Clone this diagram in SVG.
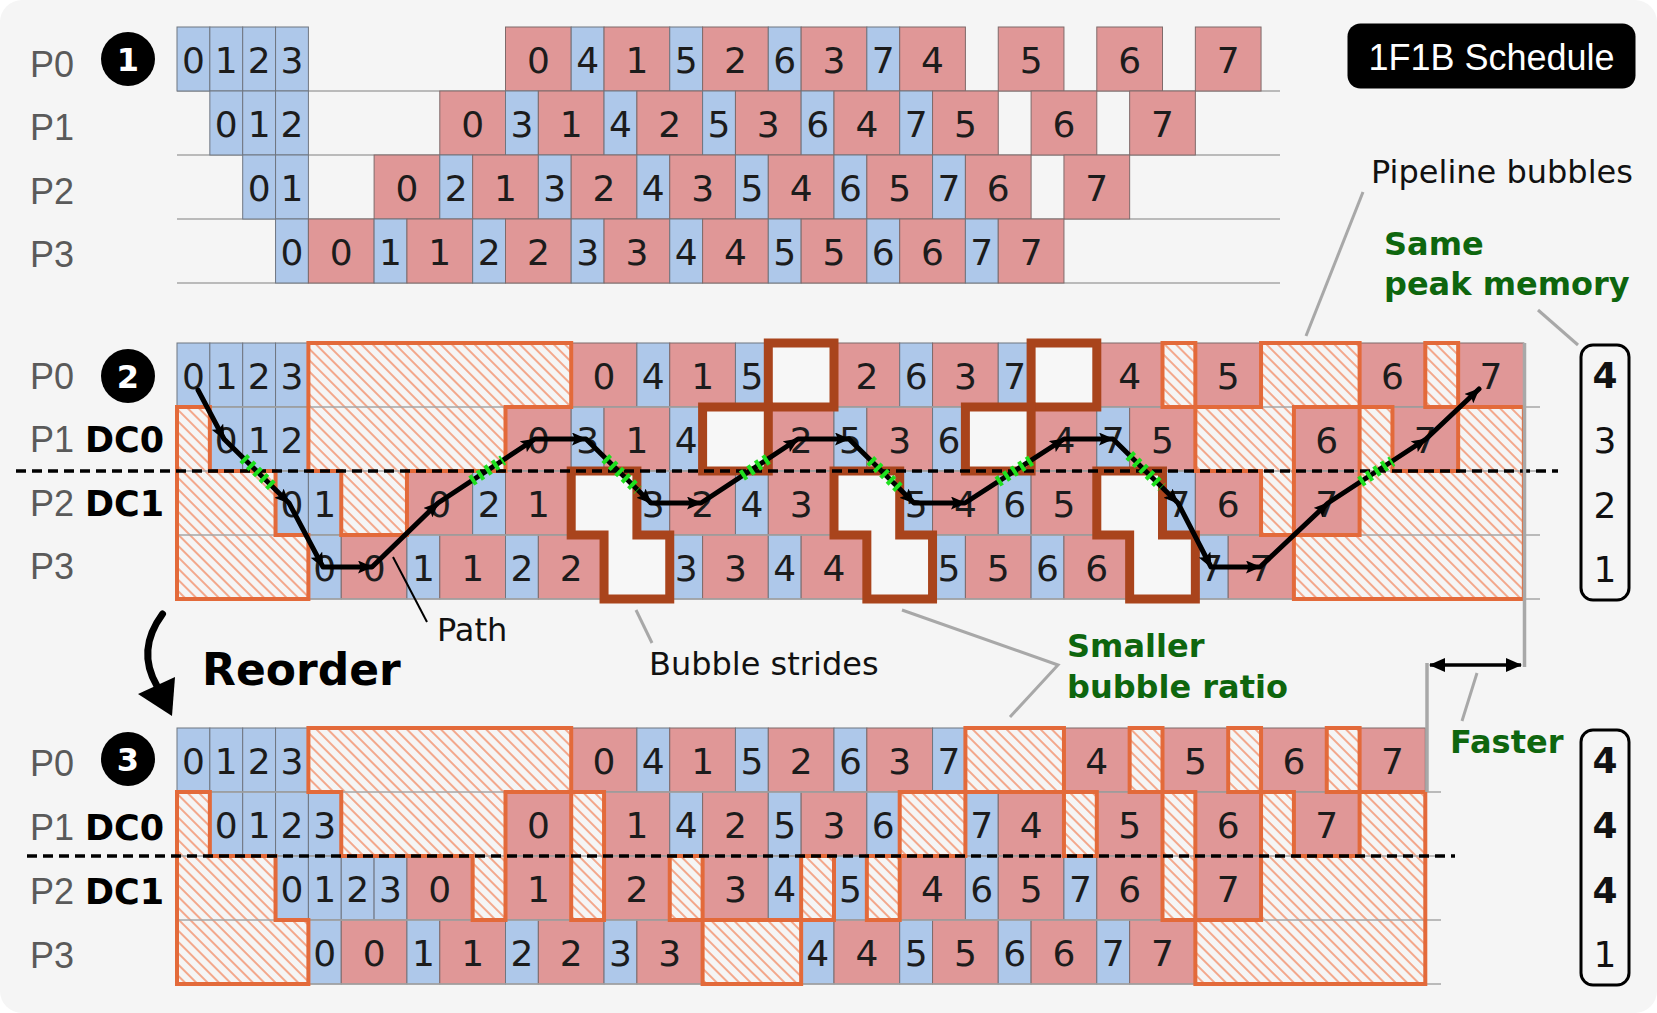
<svg xmlns="http://www.w3.org/2000/svg" width="1657" height="1013" viewBox="0 0 1657 1013">
<style>
.f{fill:#aec8ea;stroke:#6f7680;stroke-width:1}
.b{fill:#e09797;stroke:#7f6a6a;stroke-width:1}
.d{font-family:"DejaVu Sans",Verdana,sans-serif;font-size:36px;fill:#1c1c1c;text-anchor:middle}
.pl{font-family:"Liberation Sans",Arial,sans-serif;font-size:36px;fill:#5a5a5a}
.dc{font-family:"DejaVu Sans",Verdana,sans-serif;font-size:35px;font-weight:bold;fill:#000}
.grid{stroke:#a6a6a6;stroke-width:1.5}
.str{fill:#f7f7f7;stroke:#a9441c;stroke-width:9;stroke-linejoin:miter}
.ann{font-family:"DejaVu Sans",Verdana,sans-serif;font-size:32px;fill:#111}
.grn{font-family:"DejaVu Sans",Verdana,sans-serif;font-size:32px;font-weight:bold;fill:#0e660e}
.lead{stroke:#a8a8a8;stroke-width:3;fill:none}
.num{font-family:"DejaVu Sans",Verdana,sans-serif;font-size:36px;fill:#111;text-anchor:middle}
.bd{font-weight:bold}
.cn{font-family:"DejaVu Sans",Verdana,sans-serif;font-size:32px;font-weight:bold;fill:#fff;text-anchor:middle}
.dash{stroke:#000;stroke-width:3.5;stroke-dasharray:10 6}
.mem{fill:none;stroke:#000;stroke-width:3}
.hz{fill:url(#hatch);stroke:none}
.ho{fill:none;stroke:#e36a3a;stroke-width:4}
.pth{fill:none;stroke:#000;stroke-width:5;stroke-linejoin:round;stroke-linecap:round}
.mk{fill:none;stroke:none}
.gr{stroke:#1fe01f;stroke-width:11;stroke-dasharray:4 5;fill:none}
</style>
<defs>
<pattern id="hatch" patternUnits="userSpaceOnUse" width="8" height="8" patternTransform="rotate(45)">
<rect width="8" height="8" fill="#f5f5f5"/>
<line x1="0" y1="4" x2="8" y2="4" stroke="#f3a486" stroke-width="1.9"/>
</pattern>
<marker id="ah" viewBox="0 0 15 13" refX="14" refY="6.5" markerWidth="15" markerHeight="13" markerUnits="userSpaceOnUse" orient="auto"><path d="M0,0 L15,6.5 L0,13 L3,6.5 Z" fill="#000"/></marker>
<marker id="ah2" viewBox="0 0 16 14" refX="15" refY="7" markerWidth="16" markerHeight="14" markerUnits="userSpaceOnUse" orient="auto-start-reverse"><path d="M0,0 L16,7 L0,14 Z" fill="#000"/></marker>
<g id="s2h">
<path d="M177,407H209.85V471H275.55V535H308.4V599H177Z"/>
<path d="M308.4,343H571.2V407H505.5V471H406.95V535H341.25V471H308.4Z"/>
<path d="M1162.5,343H1195.35V407H1162.5Z"/>
<path d="M1261.05,343H1359.6V407H1293.9V535H1261.05V471H1195.35V407H1261.05Z"/>
<path d="M1359.6,407H1392.45V471H1458.15V407H1523.85V599H1293.9V535H1359.6Z"/>
<path d="M1425.3,343H1458.15V407H1425.3Z"/>
</g>
<g id="s3h">
<path d="M177,792H209.85V856H275.55V920H308.4V984H177Z"/>
<path d="M308.4,728H571.2V792H505.5V920H472.65V856H341.25V792H308.4Z"/>
<path d="M571.2,792H604.05V920H571.2Z"/>
<path d="M669.75,856H702.6V920H669.75Z"/>
<path d="M702.6,920H801.15V984H702.6Z"/>
<path d="M801.15,856H834V920H801.15Z"/>
<path d="M866.85,856H899.7V920H866.85Z"/>
<path d="M899.7,792H965.4V856H899.7Z"/>
<path d="M965.4,728H1063.95V792H965.4Z"/>
<path d="M1063.95,792H1096.8V856H1063.95Z"/>
<path d="M1129.65,728H1162.5V792H1129.65Z"/>
<path d="M1162.5,792H1195.35V920H1162.5Z"/>
<path d="M1228.2,728H1261.05V792H1228.2Z"/>
<path d="M1326.75,728H1359.6V792H1326.75Z"/>
<path d="M1261.05,792H1293.9V856H1359.6V792H1425.3V984H1195.35V920H1261.05Z"/>
</g>
</defs>

<rect width="1657" height="1013" fill="#ffffff"/>
<rect width="1657" height="1013" rx="22" fill="#f5f5f5"/>

<!-- ===== Schedule 1 ===== -->
<g id="s1-grid">
<line class="grid" x1="177" y1="91" x2="1280" y2="91"/>
<line class="grid" x1="177" y1="155" x2="1280" y2="155"/>
<line class="grid" x1="177" y1="219" x2="1280" y2="219"/>
<line class="grid" x1="177" y1="283" x2="1280" y2="283"/>
</g>
<g id="s1-p0" transform="translate(0,27)">
<rect class="f" x="177" width="32.85" height="64"/><rect class="f" x="209.85" width="32.85" height="64"/><rect class="f" x="242.7" width="32.85" height="64"/><rect class="f" x="275.55" width="32.85" height="64"/>
<rect class="b" x="505.5" width="65.7" height="64"/><rect class="f" x="571.2" width="32.85" height="64"/><rect class="b" x="604.05" width="65.7" height="64"/><rect class="f" x="669.75" width="32.85" height="64"/><rect class="b" x="702.6" width="65.7" height="64"/><rect class="f" x="768.3" width="32.85" height="64"/><rect class="b" x="801.15" width="65.7" height="64"/><rect class="f" x="866.85" width="32.85" height="64"/><rect class="b" x="899.7" width="65.7" height="64"/><rect class="b" x="998.25" width="65.7" height="64"/><rect class="b" x="1096.8" width="65.7" height="64"/><rect class="b" x="1195.35" width="65.7" height="64"/>
<text class="d" x="193.4" y="46">0</text><text class="d" x="226.3" y="46">1</text><text class="d" x="259.1" y="46">2</text><text class="d" x="292" y="46">3</text>
<text class="d" x="538.35" y="46">0</text><text class="d" x="587.6" y="46">4</text><text class="d" x="636.9" y="46">1</text><text class="d" x="686.2" y="46">5</text><text class="d" x="735.45" y="46">2</text><text class="d" x="784.7" y="46">6</text><text class="d" x="834" y="46">3</text><text class="d" x="883.3" y="46">7</text><text class="d" x="932.55" y="46">4</text><text class="d" x="1031.1" y="46">5</text><text class="d" x="1129.65" y="46">6</text><text class="d" x="1228.2" y="46">7</text>
</g>
<g id="s1-p1" transform="translate(0,91)">
<rect class="f" x="209.85" width="32.85" height="64"/><rect class="f" x="242.7" width="32.85" height="64"/><rect class="f" x="275.55" width="32.85" height="64"/>
<rect class="b" x="439.8" width="65.7" height="64"/><rect class="f" x="505.5" width="32.85" height="64"/><rect class="b" x="538.35" width="65.7" height="64"/><rect class="f" x="604.05" width="32.85" height="64"/><rect class="b" x="636.9" width="65.7" height="64"/><rect class="f" x="702.6" width="32.85" height="64"/><rect class="b" x="735.45" width="65.7" height="64"/><rect class="f" x="801.15" width="32.85" height="64"/><rect class="b" x="834" width="65.7" height="64"/><rect class="f" x="899.7" width="32.85" height="64"/><rect class="b" x="932.55" width="65.7" height="64"/><rect class="b" x="1031.1" width="65.7" height="64"/><rect class="b" x="1129.65" width="65.7" height="64"/>
<text class="d" x="226.3" y="46">0</text><text class="d" x="259.1" y="46">1</text><text class="d" x="292" y="46">2</text>
<text class="d" x="472.65" y="46">0</text><text class="d" x="521.9" y="46">3</text><text class="d" x="571.2" y="46">1</text><text class="d" x="620.5" y="46">4</text><text class="d" x="669.75" y="46">2</text><text class="d" x="719" y="46">5</text><text class="d" x="768.3" y="46">3</text><text class="d" x="817.6" y="46">6</text><text class="d" x="866.85" y="46">4</text><text class="d" x="916.1" y="46">7</text><text class="d" x="965.4" y="46">5</text><text class="d" x="1063.95" y="46">6</text><text class="d" x="1162.5" y="46">7</text>
</g>
<g id="s1-p2" transform="translate(0,155)">
<rect class="f" x="242.7" width="32.85" height="64"/><rect class="f" x="275.55" width="32.85" height="64"/>
<rect class="b" x="374.1" width="65.7" height="64"/><rect class="f" x="439.8" width="32.85" height="64"/><rect class="b" x="472.65" width="65.7" height="64"/><rect class="f" x="538.35" width="32.85" height="64"/><rect class="b" x="571.2" width="65.7" height="64"/><rect class="f" x="636.9" width="32.85" height="64"/><rect class="b" x="669.75" width="65.7" height="64"/><rect class="f" x="735.45" width="32.85" height="64"/><rect class="b" x="768.3" width="65.7" height="64"/><rect class="f" x="834" width="32.85" height="64"/><rect class="b" x="866.85" width="65.7" height="64"/><rect class="f" x="932.55" width="32.85" height="64"/><rect class="b" x="965.4" width="65.7" height="64"/><rect class="b" x="1063.95" width="65.7" height="64"/>
<text class="d" x="259.1" y="46">0</text><text class="d" x="292" y="46">1</text>
<text class="d" x="406.95" y="46">0</text><text class="d" x="456.2" y="46">2</text><text class="d" x="505.5" y="46">1</text><text class="d" x="554.8" y="46">3</text><text class="d" x="604.05" y="46">2</text><text class="d" x="653.3" y="46">4</text><text class="d" x="702.6" y="46">3</text><text class="d" x="751.9" y="46">5</text><text class="d" x="801.15" y="46">4</text><text class="d" x="850.4" y="46">6</text><text class="d" x="899.7" y="46">5</text><text class="d" x="949" y="46">7</text><text class="d" x="998.25" y="46">6</text><text class="d" x="1096.8" y="46">7</text>
</g>
<g id="s1-p3" transform="translate(0,219)">
<rect class="f" x="275.55" width="32.85" height="64"/><rect class="b" x="308.4" width="65.7" height="64"/><rect class="f" x="374.1" width="32.85" height="64"/><rect class="b" x="406.95" width="65.7" height="64"/><rect class="f" x="472.65" width="32.85" height="64"/><rect class="b" x="505.5" width="65.7" height="64"/><rect class="f" x="571.2" width="32.85" height="64"/><rect class="b" x="604.05" width="65.7" height="64"/><rect class="f" x="669.75" width="32.85" height="64"/><rect class="b" x="702.6" width="65.7" height="64"/><rect class="f" x="768.3" width="32.85" height="64"/><rect class="b" x="801.15" width="65.7" height="64"/><rect class="f" x="866.85" width="32.85" height="64"/><rect class="b" x="899.7" width="65.7" height="64"/><rect class="f" x="965.4" width="32.85" height="64"/><rect class="b" x="998.25" width="65.7" height="64"/>
<text class="d" x="292" y="46">0</text><text class="d" x="341.25" y="46">0</text><text class="d" x="390.5" y="46">1</text><text class="d" x="439.8" y="46">1</text><text class="d" x="489.1" y="46">2</text><text class="d" x="538.35" y="46">2</text><text class="d" x="587.6" y="46">3</text><text class="d" x="636.9" y="46">3</text><text class="d" x="686.2" y="46">4</text><text class="d" x="735.45" y="46">4</text><text class="d" x="784.7" y="46">5</text><text class="d" x="834" y="46">5</text><text class="d" x="883.3" y="46">6</text><text class="d" x="932.55" y="46">6</text><text class="d" x="981.8" y="46">7</text><text class="d" x="1031.1" y="46">7</text>
</g>
<g id="s1-labels">
<text class="pl" x="30" y="77">P0</text><text class="pl" x="30" y="140">P1</text><text class="pl" x="30" y="204">P2</text><text class="pl" x="30" y="267">P3</text>
<circle cx="128" cy="59" r="27" fill="#000"/><text class="cn" x="128" y="70.5">1</text>
</g>
<g id="title">
<rect x="1347.5" y="23.5" width="288" height="65" rx="13" fill="#000"/>
<text x="1491.5" y="69.5" text-anchor="middle" font-family="Liberation Sans, Arial, sans-serif" font-size="36" fill="#fff">1F1B Schedule</text>
</g>

<!-- ===== Schedule 2 ===== -->
<g id="s2-p0" transform="translate(0,343)">
<rect class="f" x="177" width="32.85" height="64"/><rect class="f" x="209.85" width="32.85" height="64"/><rect class="f" x="242.7" width="32.85" height="64"/><rect class="f" x="275.55" width="32.85" height="64"/>
<rect class="b" x="571.2" width="65.7" height="64"/><rect class="f" x="636.9" width="32.85" height="64"/><rect class="b" x="669.75" width="65.7" height="64"/><rect class="f" x="735.45" width="32.85" height="64"/><rect class="b" x="834" width="65.7" height="64"/><rect class="f" x="899.7" width="32.85" height="64"/><rect class="b" x="932.55" width="65.7" height="64"/><rect class="f" x="998.25" width="32.85" height="64"/><rect class="b" x="1096.8" width="65.7" height="64"/><rect class="b" x="1195.35" width="65.7" height="64"/><rect class="b" x="1359.6" width="65.7" height="64"/><rect class="b" x="1458.15" width="65.7" height="64"/>
<text class="d" x="193.4" y="45.5">0</text><text class="d" x="226.3" y="45.5">1</text><text class="d" x="259.1" y="45.5">2</text><text class="d" x="292" y="45.5">3</text>
<text class="d" x="604.05" y="45.5">0</text><text class="d" x="653.3" y="45.5">4</text><text class="d" x="702.6" y="45.5">1</text><text class="d" x="751.9" y="45.5">5</text><text class="d" x="866.85" y="45.5">2</text><text class="d" x="916.1" y="45.5">6</text><text class="d" x="965.4" y="45.5">3</text><text class="d" x="1014.7" y="45.5">7</text><text class="d" x="1129.65" y="45.5">4</text><text class="d" x="1228.2" y="45.5">5</text><text class="d" x="1392.45" y="45.5">6</text><text class="d" x="1491" y="45.5">7</text>
</g>
<g id="s2-p1" transform="translate(0,407)">
<rect class="f" x="209.85" width="32.85" height="64"/><rect class="f" x="242.7" width="32.85" height="64"/><rect class="f" x="275.55" width="32.85" height="64"/>
<rect class="b" x="505.5" width="65.7" height="64"/><rect class="f" x="571.2" width="32.85" height="64"/><rect class="b" x="604.05" width="65.7" height="64"/><rect class="f" x="669.75" width="32.85" height="64"/><rect class="b" x="768.3" width="65.7" height="64"/><rect class="f" x="834" width="32.85" height="64"/><rect class="b" x="866.85" width="65.7" height="64"/><rect class="f" x="932.55" width="32.85" height="64"/><rect class="b" x="1031.1" width="65.7" height="64"/><rect class="f" x="1096.8" width="32.85" height="64"/><rect class="b" x="1129.65" width="65.7" height="64"/><rect class="b" x="1293.9" width="65.7" height="64"/><rect class="b" x="1392.45" width="65.7" height="64"/>
<text class="d" x="226.3" y="45.5">0</text><text class="d" x="259.1" y="45.5">1</text><text class="d" x="292" y="45.5">2</text>
<text class="d" x="538.35" y="45.5">0</text><text class="d" x="587.6" y="45.5">3</text><text class="d" x="636.9" y="45.5">1</text><text class="d" x="686.2" y="45.5">4</text><text class="d" x="801.15" y="45.5">2</text><text class="d" x="850.4" y="45.5">5</text><text class="d" x="899.7" y="45.5">3</text><text class="d" x="949" y="45.5">6</text><text class="d" x="1063.95" y="45.5">4</text><text class="d" x="1113.2" y="45.5">7</text><text class="d" x="1162.5" y="45.5">5</text><text class="d" x="1326.75" y="45.5">6</text><text class="d" x="1425.3" y="45.5">7</text>
</g>
<g id="s2-p2" transform="translate(0,471)">
<rect class="f" x="275.55" width="32.85" height="64"/><rect class="f" x="308.4" width="32.85" height="64"/>
<rect class="b" x="406.95" width="65.7" height="64"/><rect class="f" x="472.65" width="32.85" height="64"/><rect class="b" x="505.5" width="65.7" height="64"/><rect class="f" x="636.9" width="32.85" height="64"/><rect class="b" x="669.75" width="65.7" height="64"/><rect class="f" x="735.45" width="32.85" height="64"/><rect class="b" x="768.3" width="65.7" height="64"/><rect class="f" x="899.7" width="32.85" height="64"/><rect class="b" x="932.55" width="65.7" height="64"/><rect class="f" x="998.25" width="32.85" height="64"/><rect class="b" x="1031.1" width="65.7" height="64"/><rect class="f" x="1162.5" width="32.85" height="64"/><rect class="b" x="1195.35" width="65.7" height="64"/><rect class="b" x="1293.9" width="65.7" height="64"/>
<text class="d" x="292" y="45.5">0</text><text class="d" x="324.8" y="45.5">1</text>
<text class="d" x="439.8" y="45.5">0</text><text class="d" x="489.1" y="45.5">2</text><text class="d" x="538.35" y="45.5">1</text><text class="d" x="653.3" y="45.5">3</text><text class="d" x="702.6" y="45.5">2</text><text class="d" x="751.9" y="45.5">4</text><text class="d" x="801.15" y="45.5">3</text><text class="d" x="916.1" y="45.5">5</text><text class="d" x="965.4" y="45.5">4</text><text class="d" x="1014.7" y="45.5">6</text><text class="d" x="1063.95" y="45.5">5</text><text class="d" x="1178.9" y="45.5">7</text><text class="d" x="1228.2" y="45.5">6</text><text class="d" x="1326.75" y="45.5">7</text>
</g>
<g id="s2-p3" transform="translate(0,535)">
<rect class="f" x="308.4" width="32.85" height="64"/><rect class="b" x="341.25" width="65.7" height="64"/><rect class="f" x="406.95" width="32.85" height="64"/><rect class="b" x="439.8" width="65.7" height="64"/><rect class="f" x="505.5" width="32.85" height="64"/><rect class="b" x="538.35" width="65.7" height="64"/><rect class="f" x="669.75" width="32.85" height="64"/><rect class="b" x="702.6" width="65.7" height="64"/><rect class="f" x="768.3" width="32.85" height="64"/><rect class="b" x="801.15" width="65.7" height="64"/><rect class="f" x="932.55" width="32.85" height="64"/><rect class="b" x="965.4" width="65.7" height="64"/><rect class="f" x="1031.1" width="32.85" height="64"/><rect class="b" x="1063.95" width="65.7" height="64"/><rect class="f" x="1195.35" width="32.85" height="64"/><rect class="b" x="1228.2" width="65.7" height="64"/>
<text class="d" x="324.8" y="45.5">0</text><text class="d" x="374.1" y="45.5">0</text><text class="d" x="423.4" y="45.5">1</text><text class="d" x="472.65" y="45.5">1</text><text class="d" x="521.9" y="45.5">2</text><text class="d" x="571.2" y="45.5">2</text><text class="d" x="686.2" y="45.5">3</text><text class="d" x="735.45" y="45.5">3</text><text class="d" x="784.7" y="45.5">4</text><text class="d" x="834" y="45.5">4</text><text class="d" x="949" y="45.5">5</text><text class="d" x="998.25" y="45.5">5</text><text class="d" x="1047.5" y="45.5">6</text><text class="d" x="1096.8" y="45.5">6</text><text class="d" x="1211.8" y="45.5">7</text><text class="d" x="1261.05" y="45.5">7</text>
</g>
<g id="s2-bubbles"><use href="#s2h" class="hz"/></g>
<g id="s2-grid">
<line class="grid" x1="177" y1="407" x2="1540" y2="407"/>
<line class="grid" x1="177" y1="471" x2="1540" y2="471"/>
<line class="grid" x1="177" y1="535" x2="1540" y2="535"/>
<line class="grid" x1="177" y1="599" x2="1540" y2="599"/>
</g>
<g id="s2-bubble-outline"><use href="#s2h" class="ho"/></g>
<g id="s2-strides">
<rect class="str" x="768.3" y="343" width="65.7" height="64"/>
<rect class="str" x="1031.1" y="343" width="65.7" height="64"/>
<rect class="str" x="702.6" y="407" width="65.7" height="64"/>
<rect class="str" x="965.4" y="407" width="65.7" height="64"/>
<path class="str" d="M571.2,471H636.9V535H669.75V599H604.05V535H571.2Z"/>
<path class="str" d="M834,471H899.7V535H932.55V599H866.85V535H834Z"/>
<path class="str" d="M1096.8,471H1162.5V535H1195.35V599H1129.65V535H1096.8Z"/>
</g>
<g id="s2-labels">
<text class="pl" x="30" y="389">P0</text><text class="pl" x="30" y="452">P1</text><text class="pl" x="30" y="516">P2</text><text class="pl" x="30" y="579">P3</text>
<text class="dc" x="85" y="452">DC0</text><text class="dc" x="85" y="516">DC1</text>
<circle cx="128" cy="376" r="27" fill="#000"/><text class="cn" x="128" y="387.5">2</text>
</g>
<line id="s2-dc-split" class="dash" x1="16" y1="471" x2="1558" y2="471"/>
<g id="s2-path">
<polyline class="pth" points="198,390 224,439 289,503 323,567 372,567 438,503 535,439 586,439 651,503 701,503 798,439 849,439 914,503 965,503 1064,439 1113,439 1178,503 1211,567 1260,567 1328,503 1426,439 1479,389"/>
<path class="mk" marker-end="url(#ah)" d="M198,390L224,439"/>
<path class="mk" marker-end="url(#ah)" d="M224,439L289,503"/>
<path class="mk" marker-end="url(#ah)" d="M289,503L323,567"/>
<path class="mk" marker-end="url(#ah)" d="M323,567L372,567"/>
<path class="mk" marker-end="url(#ah)" d="M372,567L438,503"/>
<path class="mk" marker-end="url(#ah)" d="M438,503L535,439"/>
<path class="mk" marker-end="url(#ah)" d="M535,439L586,439"/>
<path class="mk" marker-end="url(#ah)" d="M586,439L651,503"/>
<path class="mk" marker-end="url(#ah)" d="M651,503L701,503"/>
<path class="mk" marker-end="url(#ah)" d="M701,503L798,439"/>
<path class="mk" marker-end="url(#ah)" d="M798,439L849,439"/>
<path class="mk" marker-end="url(#ah)" d="M849,439L914,503"/>
<path class="mk" marker-end="url(#ah)" d="M914,503L965,503"/>
<path class="mk" marker-end="url(#ah)" d="M965,503L1064,439"/>
<path class="mk" marker-end="url(#ah)" d="M1064,439L1113,439"/>
<path class="mk" marker-end="url(#ah)" d="M1113,439L1178,503"/>
<path class="mk" marker-end="url(#ah)" d="M1178,503L1211,567"/>
<path class="mk" marker-end="url(#ah)" d="M1211,567L1260,567"/>
<path class="mk" marker-end="url(#ah)" d="M1260,567L1328,503"/>
<path class="mk" marker-end="url(#ah)" d="M1328,503L1426,439"/>
<path class="mk" marker-end="url(#ah)" d="M1426,439L1479,389"/>
<line class="gr" x1="243.3" y1="458" x2="273.8" y2="488"/>
<line class="gr" x1="471.3" y1="481" x2="503.2" y2="460"/>
<line class="gr" x1="605.3" y1="458" x2="637.8" y2="490"/>
<line class="gr" x1="741.9" y1="476" x2="769.2" y2="458"/>
<line class="gr" x1="870.3" y1="460" x2="900.8" y2="490"/>
<line class="gr" x1="997.5" y1="482" x2="1031.5" y2="460"/>
<line class="gr" x1="1129.3" y1="455" x2="1161.8" y2="487"/>
<line class="gr" x1="1360.2" y1="482" x2="1392.3" y2="461"/>
</g>
<g id="s2-memory">
<rect class="mem" x="1581" y="345" width="48" height="255" rx="12"/>
<text class="num bd" x="1605" y="388">4</text><text class="num" x="1605" y="453">3</text><text class="num" x="1605" y="518">2</text><text class="num" x="1605" y="582">1</text>
</g>

<!-- ===== Schedule 3 ===== -->
<g id="s3-p0" transform="translate(0,728)">
<rect class="f" x="177" width="32.85" height="64"/><rect class="f" x="209.85" width="32.85" height="64"/><rect class="f" x="242.7" width="32.85" height="64"/><rect class="f" x="275.55" width="32.85" height="64"/>
<rect class="b" x="571.2" width="65.7" height="64"/><rect class="f" x="636.9" width="32.85" height="64"/><rect class="b" x="669.75" width="65.7" height="64"/><rect class="f" x="735.45" width="32.85" height="64"/><rect class="b" x="768.3" width="65.7" height="64"/><rect class="f" x="834" width="32.85" height="64"/><rect class="b" x="866.85" width="65.7" height="64"/><rect class="f" x="932.55" width="32.85" height="64"/><rect class="b" x="1063.95" width="65.7" height="64"/><rect class="b" x="1162.5" width="65.7" height="64"/><rect class="b" x="1261.05" width="65.7" height="64"/><rect class="b" x="1359.6" width="65.7" height="64"/>
<text class="d" x="193.4" y="45.5">0</text><text class="d" x="226.3" y="45.5">1</text><text class="d" x="259.1" y="45.5">2</text><text class="d" x="292" y="45.5">3</text>
<text class="d" x="604.05" y="45.5">0</text><text class="d" x="653.3" y="45.5">4</text><text class="d" x="702.6" y="45.5">1</text><text class="d" x="751.9" y="45.5">5</text><text class="d" x="801.15" y="45.5">2</text><text class="d" x="850.4" y="45.5">6</text><text class="d" x="899.7" y="45.5">3</text><text class="d" x="949" y="45.5">7</text><text class="d" x="1096.8" y="45.5">4</text><text class="d" x="1195.35" y="45.5">5</text><text class="d" x="1293.9" y="45.5">6</text><text class="d" x="1392.45" y="45.5">7</text>
</g>
<g id="s3-p1" transform="translate(0,792)">
<rect class="f" x="209.85" width="32.85" height="64"/><rect class="f" x="242.7" width="32.85" height="64"/><rect class="f" x="275.55" width="32.85" height="64"/><rect class="f" x="308.4" width="32.85" height="64"/>
<rect class="b" x="505.5" width="65.7" height="64"/><rect class="b" x="604.05" width="65.7" height="64"/><rect class="f" x="669.75" width="32.85" height="64"/><rect class="b" x="702.6" width="65.7" height="64"/><rect class="f" x="768.3" width="32.85" height="64"/><rect class="b" x="801.15" width="65.7" height="64"/><rect class="f" x="866.85" width="32.85" height="64"/><rect class="f" x="965.4" width="32.85" height="64"/><rect class="b" x="998.25" width="65.7" height="64"/><rect class="b" x="1096.8" width="65.7" height="64"/><rect class="b" x="1195.35" width="65.7" height="64"/><rect class="b" x="1293.9" width="65.7" height="64"/>
<text class="d" x="226.3" y="45.5">0</text><text class="d" x="259.1" y="45.5">1</text><text class="d" x="292" y="45.5">2</text><text class="d" x="324.8" y="45.5">3</text>
<text class="d" x="538.35" y="45.5">0</text><text class="d" x="636.9" y="45.5">1</text><text class="d" x="686.2" y="45.5">4</text><text class="d" x="735.45" y="45.5">2</text><text class="d" x="784.7" y="45.5">5</text><text class="d" x="834" y="45.5">3</text><text class="d" x="883.3" y="45.5">6</text><text class="d" x="981.8" y="45.5">7</text><text class="d" x="1031.1" y="45.5">4</text><text class="d" x="1129.65" y="45.5">5</text><text class="d" x="1228.2" y="45.5">6</text><text class="d" x="1326.75" y="45.5">7</text>
</g>
<g id="s3-p2" transform="translate(0,856)">
<rect class="f" x="275.55" width="32.85" height="64"/><rect class="f" x="308.4" width="32.85" height="64"/><rect class="f" x="341.25" width="32.85" height="64"/><rect class="f" x="374.1" width="32.85" height="64"/>
<rect class="b" x="406.95" width="65.7" height="64"/><rect class="b" x="505.5" width="65.7" height="64"/><rect class="b" x="604.05" width="65.7" height="64"/><rect class="b" x="702.6" width="65.7" height="64"/><rect class="f" x="768.3" width="32.85" height="64"/><rect class="f" x="834" width="32.85" height="64"/><rect class="b" x="899.7" width="65.7" height="64"/><rect class="f" x="965.4" width="32.85" height="64"/><rect class="b" x="998.25" width="65.7" height="64"/><rect class="f" x="1063.95" width="32.85" height="64"/><rect class="b" x="1096.8" width="65.7" height="64"/><rect class="b" x="1195.35" width="65.7" height="64"/>
<text class="d" x="292" y="45.5">0</text><text class="d" x="324.8" y="45.5">1</text><text class="d" x="357.7" y="45.5">2</text><text class="d" x="390.5" y="45.5">3</text>
<text class="d" x="439.8" y="45.5">0</text><text class="d" x="538.35" y="45.5">1</text><text class="d" x="636.9" y="45.5">2</text><text class="d" x="735.45" y="45.5">3</text><text class="d" x="784.7" y="45.5">4</text><text class="d" x="850.4" y="45.5">5</text><text class="d" x="932.55" y="45.5">4</text><text class="d" x="981.8" y="45.5">6</text><text class="d" x="1031.1" y="45.5">5</text><text class="d" x="1080.4" y="45.5">7</text><text class="d" x="1129.65" y="45.5">6</text><text class="d" x="1228.2" y="45.5">7</text>
</g>
<g id="s3-p3" transform="translate(0,920)">
<rect class="f" x="308.4" width="32.85" height="64"/><rect class="b" x="341.25" width="65.7" height="64"/><rect class="f" x="406.95" width="32.85" height="64"/><rect class="b" x="439.8" width="65.7" height="64"/><rect class="f" x="505.5" width="32.85" height="64"/><rect class="b" x="538.35" width="65.7" height="64"/><rect class="f" x="604.05" width="32.85" height="64"/><rect class="b" x="636.9" width="65.7" height="64"/><rect class="f" x="801.15" width="32.85" height="64"/><rect class="b" x="834" width="65.7" height="64"/><rect class="f" x="899.7" width="32.85" height="64"/><rect class="b" x="932.55" width="65.7" height="64"/><rect class="f" x="998.25" width="32.85" height="64"/><rect class="b" x="1031.1" width="65.7" height="64"/><rect class="f" x="1096.8" width="32.85" height="64"/><rect class="b" x="1129.65" width="65.7" height="64"/>
<text class="d" x="324.8" y="45.5">0</text><text class="d" x="374.1" y="45.5">0</text><text class="d" x="423.4" y="45.5">1</text><text class="d" x="472.65" y="45.5">1</text><text class="d" x="521.9" y="45.5">2</text><text class="d" x="571.2" y="45.5">2</text><text class="d" x="620.5" y="45.5">3</text><text class="d" x="669.75" y="45.5">3</text><text class="d" x="817.6" y="45.5">4</text><text class="d" x="866.85" y="45.5">4</text><text class="d" x="916.1" y="45.5">5</text><text class="d" x="965.4" y="45.5">5</text><text class="d" x="1014.7" y="45.5">6</text><text class="d" x="1063.95" y="45.5">6</text><text class="d" x="1113.2" y="45.5">7</text><text class="d" x="1162.5" y="45.5">7</text>
</g>
<g id="s3-bubbles"><use href="#s3h" class="hz"/></g>
<g id="s3-grid">
<line class="grid" x1="177" y1="792" x2="1441" y2="792"/>
<line class="grid" x1="177" y1="856" x2="1441" y2="856"/>
<line class="grid" x1="177" y1="920" x2="1441" y2="920"/>
<line class="grid" x1="177" y1="984" x2="1441" y2="984"/>
</g>
<g id="s3-bubble-outline"><use href="#s3h" class="ho"/></g>
<g id="s3-labels">
<text class="pl" x="30" y="776">P0</text><text class="pl" x="30" y="840">P1</text><text class="pl" x="30" y="904">P2</text><text class="pl" x="30" y="968">P3</text>
<text class="dc" x="85" y="840">DC0</text><text class="dc" x="85" y="904">DC1</text>
<circle cx="128" cy="759" r="27" fill="#000"/><text class="cn" x="128" y="770.5">3</text>
</g>
<line id="s3-dc-split" class="dash" x1="27" y1="856" x2="1455" y2="856"/>
<g id="s3-memory">
<rect class="mem" x="1581" y="730" width="48" height="255" rx="12"/>
<text class="num bd" x="1605" y="773">4</text><text class="num bd" x="1605" y="838">4</text><text class="num bd" x="1605" y="903">4</text><text class="num" x="1605" y="967">1</text>
</g>

<!-- ===== Annotations ===== -->
<g id="connectors">
<line class="lead" x1="1363" y1="192" x2="1306" y2="336"/>
<line class="lead" x1="1538" y1="310" x2="1578" y2="345"/>
<line x1="393" y1="557" x2="427" y2="622" stroke="#000" stroke-width="2"/>
<line class="lead" x1="636" y1="610" x2="652" y2="643"/>
<polyline class="lead" points="902,610 1058,665 1010,717"/>
<line class="lead" x1="1477" y1="673" x2="1462" y2="721"/>
<line x1="1524.5" y1="343" x2="1524.5" y2="667" stroke="#a8a8a8" stroke-width="3.5"/>
<line x1="1427" y1="663" x2="1427" y2="792" stroke="#a8a8a8" stroke-width="3.5"/>
<line x1="1430" y1="665" x2="1521" y2="665" stroke="#000" stroke-width="3.5" marker-start="url(#ah2)" marker-end="url(#ah2)"/>
<path d="M162.5,614 Q136,650 157,686" fill="none" stroke="#000" stroke-width="7" stroke-linecap="round"/>
<polygon points="138,694 175,677 172,716" fill="#000"/>
</g>
<g id="texts">
<text class="ann" x="1371" y="183">Pipeline bubbles</text>
<text class="grn" x="1384" y="255">Same</text>
<text class="grn" x="1384" y="295">peak memory</text>
<text x="202" y="685" font-family="DejaVu Sans, Verdana, sans-serif" font-size="44" font-weight="bold" fill="#000">Reorder</text>
<text class="ann" x="437" y="641">Path</text>
<text class="ann" x="649" y="675">Bubble strides</text>
<text class="grn" x="1067" y="657">Smaller</text>
<text class="grn" x="1067" y="698">bubble ratio</text>
<text class="grn" x="1450" y="753">Faster</text>
</g>
</svg>
